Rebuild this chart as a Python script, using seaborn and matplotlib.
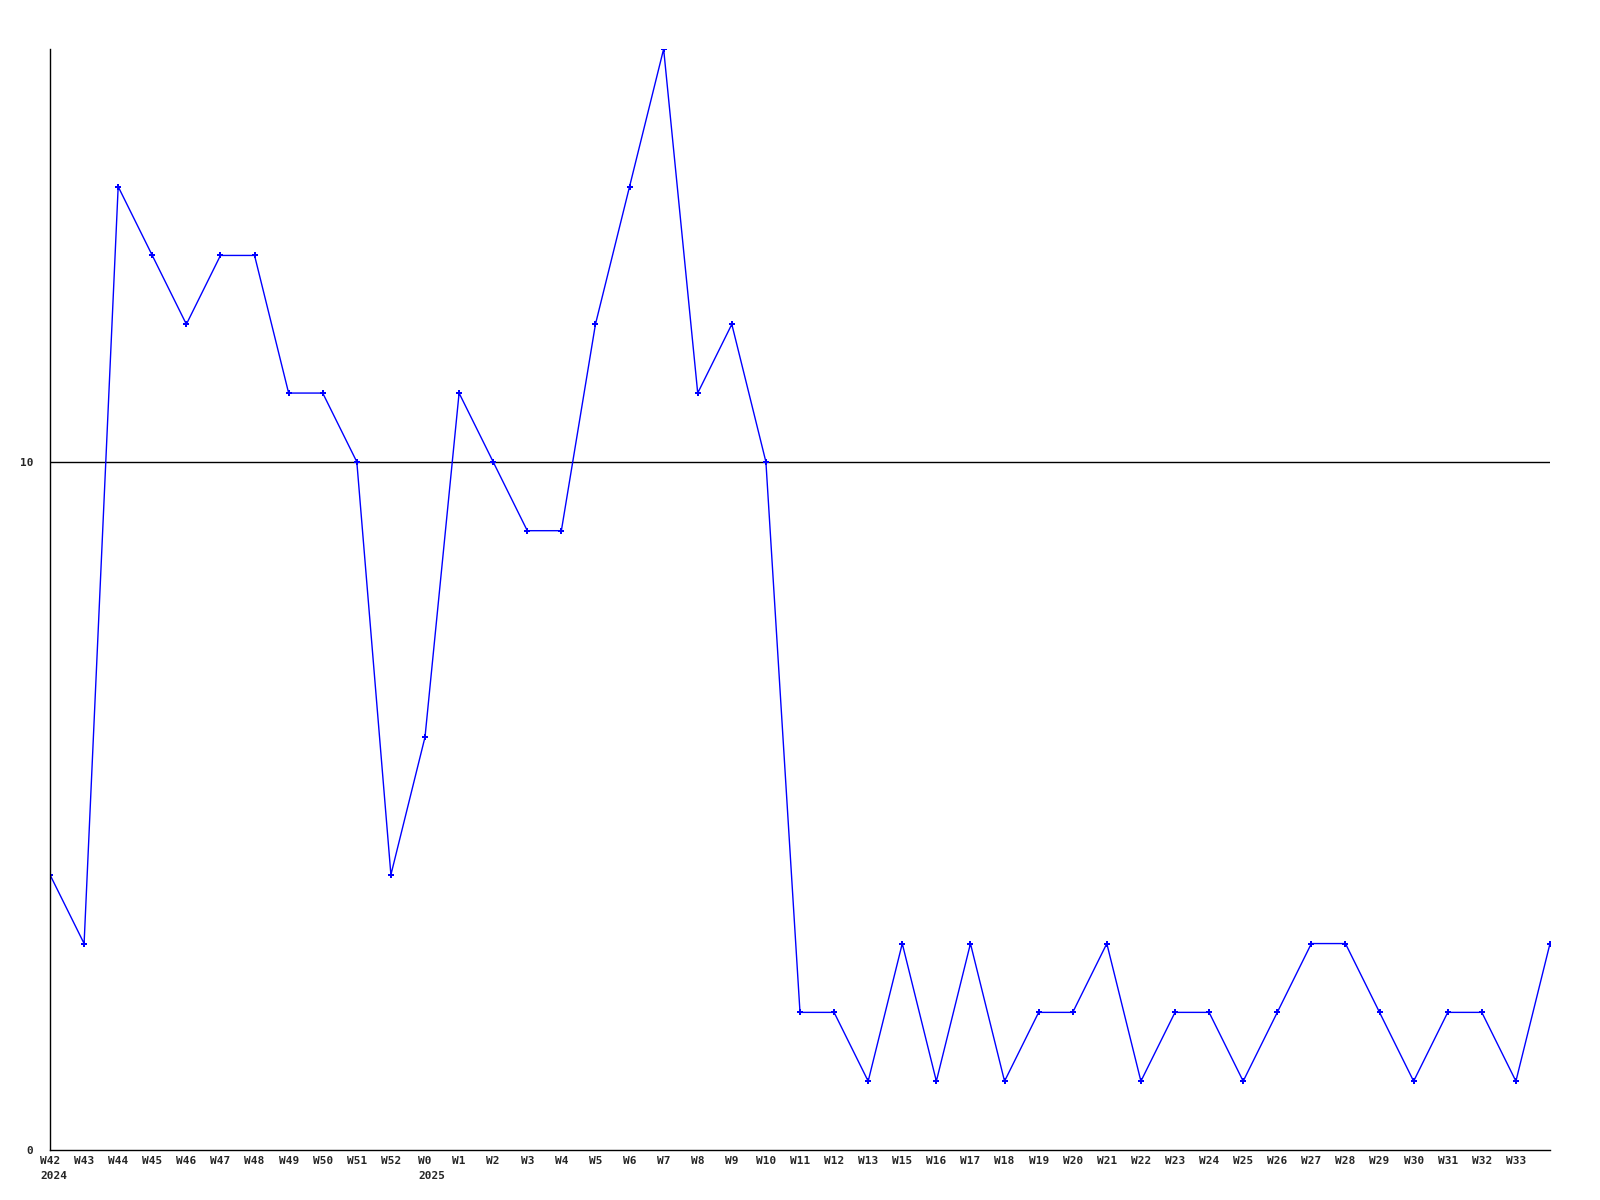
import numpy as np
import pandas as pd
import seaborn as sns
import matplotlib.pyplot as plt

# week labels (W14 missing in the source, last point has no label)
weeks = ['W42', 'W43', 'W44', 'W45', 'W46', 'W47', 'W48', 'W49', 'W50', 'W51', 'W52',
         'W0', 'W1', 'W2', 'W3', 'W4', 'W5', 'W6', 'W7', 'W8', 'W9', 'W10', 'W11', 'W12',
         'W13', 'W15', 'W16', 'W17', 'W18', 'W19', 'W20', 'W21', 'W22', 'W23', 'W24',
         'W25', 'W26', 'W27', 'W28', 'W29', 'W30', 'W31', 'W32', 'W33', '']
years = {0: '2024', 11: '2025'}
values = [4, 3, 14, 13, 12, 13, 13, 11, 11, 10, 4,
          6, 11, 10, 9, 9, 12, 14, 16, 11, 12, 10, 2, 2,
          1, 3, 1, 3, 1, 2, 2, 3, 1, 2, 2,
          1, 2, 3, 3, 2, 1, 2, 2, 1, 3]
ref_line = 10

df = pd.DataFrame({'idx': np.arange(len(values)), 'value': values})

sns.set_style('white')
plt.rcParams['font.family'] = ['DejaVu Sans Mono']

fig = plt.figure(figsize=(16, 12), dpi=100)
ax = fig.add_axes([50 / 1600, 50 / 1200, 1500 / 1600, 1101 / 1200])

sns.lineplot(data=df, x='idx', y='value', ax=ax, color='#0000ff', linewidth=1,
             marker='P', markersize=4, markeredgewidth=0)
ax.axhline(ref_line, color='black', linewidth=1, zorder=1)

ax.set_xlim(0, len(values) - 1)
ax.set_ylim(0, 16)

ax.set_xticks(range(len(weeks) - 1))
ax.set_xticklabels(weeks[:-1], fontsize=8, fontweight='bold')
ax.set_yticks([0, 10])
ax.set_yticklabels(['0', '10'], fontsize=8, fontweight='bold')
ax.tick_params(axis='both', length=0)
ax.tick_params(axis='x', pad=4)
ax.tick_params(axis='y', pad=12)
ax.set_xlabel('')
ax.set_ylabel('')

# year labels, left aligned with the week label above them
for i, yr in years.items():
    dx = -0.6 * 8 * len(weeks[i]) / 2
    ax.annotate(yr, xy=(i, 0), xycoords=('data', 'axes fraction'),
                xytext=(dx, -15), textcoords='offset points',
                ha='left', va='top', fontsize=8, fontweight='bold')

for s in ['top', 'right']:
    ax.spines[s].set_visible(False)
for s in ['left', 'bottom']:
    ax.spines[s].set_color('black')
    ax.spines[s].set_linewidth(1)

fig.savefig('out.png', dpi=100, facecolor='white')
